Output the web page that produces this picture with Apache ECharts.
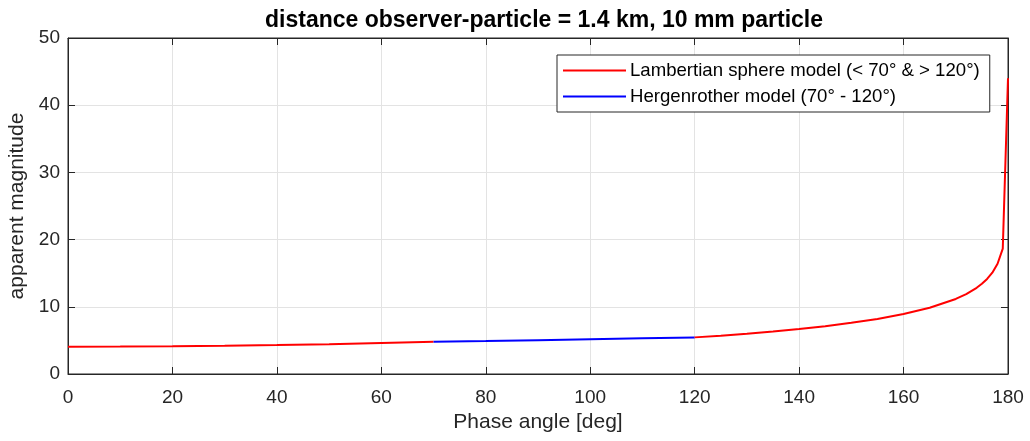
<!DOCTYPE html>
<html>
<head>
<meta charset="utf-8">
<script src="https://cdn.jsdelivr.net/npm/echarts@6/dist/echarts.min.js"></script>
<style>
  html, body { margin: 0; padding: 0; background: #fff; }
  #chart { width: 1030px; height: 441px; }
</style>
</head>
<body>
<div id="chart"></div>
<script>
// Phase angle (deg) and apparent magnitude, split by photometric model
const lambertLowAngle = [0, 10, 20, 30, 40, 50, 60, 70];
const lambertLowMag   = [4.06, 4.08, 4.12, 4.20, 4.30, 4.43, 4.60, 4.79];

const hergenAngle = [70, 80, 90, 100, 110, 120];
const hergenMag   = [4.79, 4.91, 5.04, 5.17, 5.31, 5.45];

const lambertHighAngle = [120, 125, 130, 135, 140, 145, 150, 155, 160, 165, 170,
                          172, 174, 175, 176, 177, 178, 179, 180];
const lambertHighMag   = [5.45, 5.71, 6.00, 6.33, 6.70, 7.12, 7.61, 8.20, 8.92, 9.85, 11.17,
                          11.89, 12.83, 13.42, 14.15, 15.08, 16.40, 18.66, 44.0];

const xTicks = { min: 0, max: 180, interval: 20 };
const yTicks = { min: 0, max: 50, interval: 10 };

const lambertName = 'Lambertian sphere model (< 70° & > 120°)';
const hergenName = 'Hergenrother model (70° - 120°)';

const pair = (xs, ys) => xs.map((x, i) => [x, ys[i]]);

const FONT = '"Liberation Sans", Arial, Helvetica, sans-serif';
const INK = '#262626';

const chart = echarts.init(document.getElementById('chart'), null, { renderer: 'canvas' });

const tickStyle = { inside: true, length: 7, lineStyle: { color: INK, width: 1 } };
const frameLine = { show: true, onZero: false, lineStyle: { color: INK, width: 1 } };

chart.setOption({
  animation: false,
  backgroundColor: '#ffffff',
  title: {
    text: 'distance observer-particle = 1.4 km, 10 mm particle',
    left: 539, top: 4, textAlign: 'center',
    textStyle: { fontFamily: FONT, fontSize: 23, fontWeight: 'bold', color: '#000' }
  },
  grid: {
    left: 68, right: 22, top: 38, bottom: 67,
    outerBoundsMode: 'none', containLabel: false,
    show: true, borderColor: INK, borderWidth: 1, backgroundColor: 'transparent'
  },
  legend: {
    orient: 'vertical',
    left: 557, top: 55,
    padding: [6, 10, 6, 6],
    itemGap: 7,
    itemWidth: 63, itemHeight: 2,
    icon: 'rect',
    borderColor: INK, borderWidth: 1,
    backgroundColor: '#fff',
    textStyle: { fontFamily: FONT, fontSize: 18.6, color: '#000', padding: [0, 0, 0, -1] },
    data: [lambertName, hergenName]
  },
  xAxis: [{
    type: 'value', min: xTicks.min, max: xTicks.max, interval: xTicks.interval,
    name: 'Phase angle [deg]', nameLocation: 'middle', nameGap: 38,
    nameTextStyle: { fontFamily: FONT, fontSize: 21, color: INK },
    axisLine: frameLine,
    axisTick: tickStyle,
    axisLabel: { fontFamily: FONT, fontSize: 19, color: INK, margin: 14 },
    splitLine: { show: true, lineStyle: { color: '#e3e3e3', width: 1 } }
  }, {
    type: 'value', position: 'top', min: xTicks.min, max: xTicks.max, interval: xTicks.interval,
    axisLine: frameLine,
    axisTick: tickStyle, axisLabel: { show: false }, splitLine: { show: false }
  }],
  yAxis: [{
    type: 'value', min: yTicks.min, max: yTicks.max, interval: yTicks.interval,
    name: 'apparent magnitude', nameLocation: 'middle', nameGap: 38, nameRotate: 90,
    nameTextStyle: { fontFamily: FONT, fontSize: 21, color: INK },
    axisLine: frameLine,
    axisTick: tickStyle,
    axisLabel: { fontFamily: FONT, fontSize: 19, color: INK, margin: 8 },
    splitLine: { show: true, lineStyle: { color: '#e3e3e3', width: 1 } }
  }, {
    type: 'value', position: 'right', min: yTicks.min, max: yTicks.max, interval: yTicks.interval,
    axisLine: frameLine,
    axisTick: tickStyle, axisLabel: { show: false }, splitLine: { show: false }
  }],
  series: [{
    name: lambertName, type: 'line', showSymbol: false, symbol: 'none',
    color: '#ff0000', lineStyle: { color: '#ff0000', width: 2 },
    data: pair(lambertLowAngle, lambertLowMag)
  }, {
    name: hergenName, type: 'line', showSymbol: false, symbol: 'none',
    color: '#0000ff', lineStyle: { color: '#0000ff', width: 2 },
    data: pair(hergenAngle, hergenMag)
  }, {
    name: lambertName, type: 'line', showSymbol: false, symbol: 'none',
    color: '#ff0000', lineStyle: { color: '#ff0000', width: 2 },
    data: pair(lambertHighAngle, lambertHighMag)
  }]
});
</script>
</body>
</html>
